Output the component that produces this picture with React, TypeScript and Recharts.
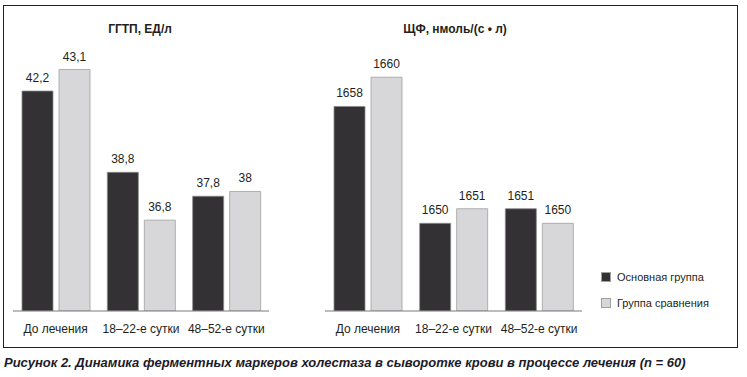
import { BarChart, Bar, XAxis, YAxis, LabelList, Legend } from "recharts";

const categories = ["До лечения", "18–22-е сутки", "48–52-е сутки"];
const ggtpMain = [42.2, 38.8, 37.8];
const ggtpCompare = [43.1, 36.8, 38];
const alpMain = [1658, 1650, 1651];
const alpCompare = [1660, 1651, 1650];
const seriesNames = ["Основная группа", "Группа сравнения"];

const DARK = "#333133";
const LIGHT = "#d7d7d9";
const TEXT = "#231f20";
const FONT = "'Liberation Sans', Arial, sans-serif";

const ggtpData = categories.map((name, i) => ({ name, main: ggtpMain[i], compare: ggtpCompare[i] }));
const alpData = categories.map((name, i) => ({ name, main: alpMain[i], compare: alpCompare[i] }));

const fmt = (v: number) => String(v).replace(".", ",");

const LegendBox = () => (
  <div style={{ fontFamily: FONT, fontSize: 11, color: TEXT }}>
    {seriesNames.map((n, i) => (
      <div key={n} style={{ display: "flex", alignItems: "center", height: 26 }}>
        <div
          style={{
            width: 10,
            height: 10,
            background: i === 0 ? DARK : LIGHT,
            border: "1px solid #a0a0a0",
            boxSizing: "border-box",
            marginRight: 6,
          }}
        />
        <span>{n}</span>
      </div>
    ))}
  </div>
);

const Panel = ({
  data,
  domain,
  width,
  marginRight,
  legend,
}: {
  data: any[];
  domain: [number, number];
  width: number;
  marginRight: number;
  legend?: boolean;
}) => (
  <BarChart
    width={width}
    height={345}
    data={data}
    margin={{ top: 48, right: marginRight, left: 13, bottom: 0 }}
    barSize={31}
    barGap={6}
  >
    <XAxis
      dataKey="name"
      tickLine={false}
      axisLine={{ stroke: "#7a7a7a" }}
      height={34}
      tick={{ fill: TEXT, fontSize: 12, fontFamily: FONT }}
      tickMargin={7}
      interval={0}
    />
    <YAxis hide domain={domain} allowDataOverflow />
    {legend && (
      <Legend
        layout="vertical"
        align="right"
        verticalAlign="top"
        content={<LegendBox />}
        wrapperStyle={{ left: 289, top: 264, width: 140 }}
      />
    )}
    <Bar dataKey="main" name={seriesNames[0]} fill={DARK} stroke="#8a8a8a" strokeWidth={0.8} isAnimationActive={false}>
      <LabelList dataKey="main" position="top" offset={9} formatter={fmt} style={{ fill: TEXT, fontSize: 12, fontFamily: FONT }} />
    </Bar>
    <Bar dataKey="compare" name={seriesNames[1]} fill={LIGHT} stroke="#a0a0a0" strokeWidth={0.8} isAnimationActive={false}>
      <LabelList dataKey="compare" position="top" offset={9} formatter={fmt} style={{ fill: TEXT, fontSize: 12, fontFamily: FONT }} />
    </Bar>
  </BarChart>
);

export default function App() {
  return (
    <div style={{ position: "absolute", left: 0, top: 0, width: 747, height: 377, background: "#fff", fontFamily: FONT }}>
      <div
        style={{
          position: "absolute",
          left: 3,
          top: 5,
          width: 735,
          height: 343,
          border: "1px solid #231f20",
          boxSizing: "border-box",
        }}
      />
      <div style={{ position: "absolute", left: 0, top: 0 }}>
        <Panel data={ggtpData} domain={[33, 44]} width={280} marginRight={11} />
      </div>
      <div style={{ position: "absolute", left: 312, top: 0 }}>
        <Panel data={alpData} domain={[1644, 1662]} width={435} marginRight={25} legend />
      </div>
      <div style={{ position: "absolute", left: 40, top: 22, width: 200, textAlign: "center", fontSize: 12, fontWeight: "bold", color: TEXT }}>
        ГГТП, ЕД/л
      </div>
      <div style={{ position: "absolute", left: 355, top: 22, width: 200, textAlign: "center", fontSize: 12, fontWeight: "bold", color: TEXT }}>
        ЩФ, нмоль/(с • л)
      </div>
      <div
        style={{
          position: "absolute",
          left: 4,
          top: 355,
          fontSize: 13,
          fontWeight: "bold",
          fontStyle: "italic",
          color: "#1c1b2a",
          whiteSpace: "nowrap",
        }}
      >
        Рисунок 2. Динамика ферментных маркеров холестаза в сыворотке крови в процессе лечения (n = 60)
      </div>
    </div>
  );
}
